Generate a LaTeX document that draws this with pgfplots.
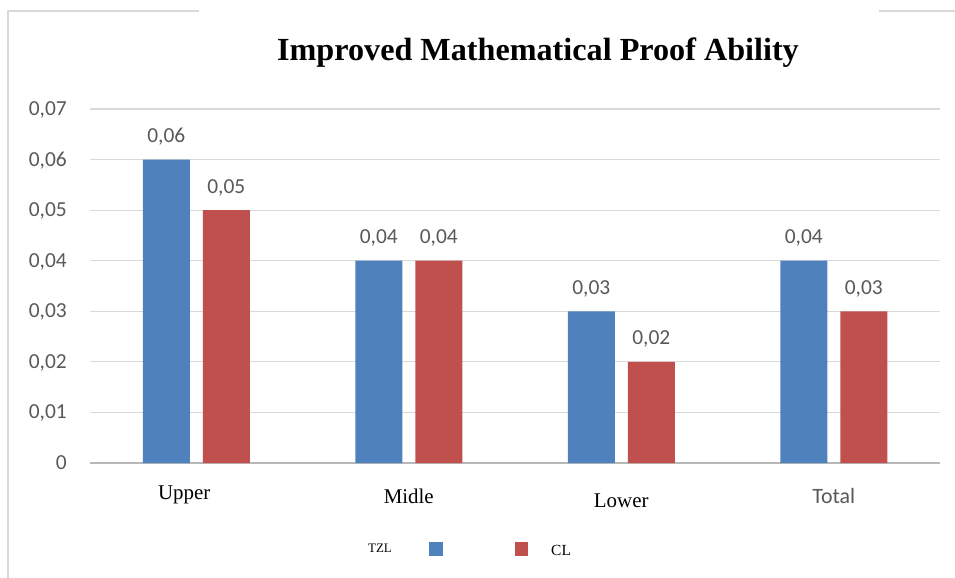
\documentclass[border=0pt]{standalone}
\usepackage{fontspec}
\setmainfont{Liberation Serif}
\newfontfamily\calib{Carlito}
\usepackage{pgfplots}
\pgfplotsset{compat=1.18}
\definecolor{tzl}{RGB}{79,129,189}
\definecolor{cl}{RGB}{192,80,77}
\definecolor{gridc}{RGB}{217,217,217}
\definecolor{txt}{RGB}{89,89,89}
\begin{document}
\begin{tikzpicture}[x=1bp,y=1bp]
\path[use as bounding box] (0,0) rectangle (955,-578);
\draw[gridc, line width=1.2bp] (8,-578) -- (8,-11) -- (199,-11);
\draw[gridc, line width=1.2bp] (879,-11) -- (955,-11);
\node[font=\fontsize{32.3}{36}\selectfont\bfseries, anchor=base] at (538,-61) {Improved Mathematical Proof Ability};
\begin{axis}[at={(90bp,-463bp)}, anchor=south west, scale only axis,
  width=850bp, height=354bp,
  xmin=-0.5, xmax=3.5, ymin=0, ymax=0.07,
  ybar=13bp, bar width=47bp,
  axis lines*=left,
  y axis line style={draw=none},
  x axis line style={draw=gridc!85!black, line width=1.2bp},
  major tick length=0pt,
  scaled y ticks=false,
  ymajorgrids, grid style={gridc, line width=1.2bp},
  ytick={0,0.01,0.02,0.03,0.04,0.05,0.06,0.07},
  yticklabels={0,{0,01},{0,02},{0,03},{0,04},{0,05},{0,06},{0,07}},
  yticklabel style={font=\calib\fontsize{21.5}{24}\selectfont, text=txt, anchor=base east, inner sep=0pt, xshift=-23bp, yshift=-6.5bp},
  xtick={0,1,2,3},
  xticklabels={Upper\hspace*{24bp},\raisebox{-4bp}{Midle},\raisebox{-8bp}{Lower},\raisebox{-4bp}{\calib\fontsize{22}{26}\selectfont\color{txt}Total}},
  xticklabel style={anchor=base, inner sep=0pt, yshift=-36bp, font=\fontsize{21}{24}\selectfont},
  /pgf/number format/assume math mode=true,
  nodes near coords={\pgfmathprintnumber[fixed,fixed zerofill,precision=2,use comma,assume math mode=true]{\pgfplotspointmeta}},
  every node near coord/.append style={font=\calib\fontsize{21.5}{24}\selectfont, text=txt, anchor=base, inner sep=0pt, yshift=17bp},
  clip=false,
]
\addplot[fill=tzl, draw=none] coordinates {(0,0.06) (1,0.04) (2,0.03) (3,0.04)};
\addplot[fill=cl, draw=none] coordinates {(0,0.05) (1,0.04) (2,0.02) (3,0.03)};
\end{axis}
\node[font=\fontsize{13}{15}\selectfont, anchor=base, inner sep=0pt] at (380,-552) {TZL};
\fill[tzl] (429,-542) rectangle (443,-556);
\fill[cl] (515,-542) rectangle (528,-556);
\node[font=\fontsize{15.5}{18}\selectfont, anchor=base west, inner sep=0pt] at (551,-555) {CL};
\end{tikzpicture}
\end{document}
